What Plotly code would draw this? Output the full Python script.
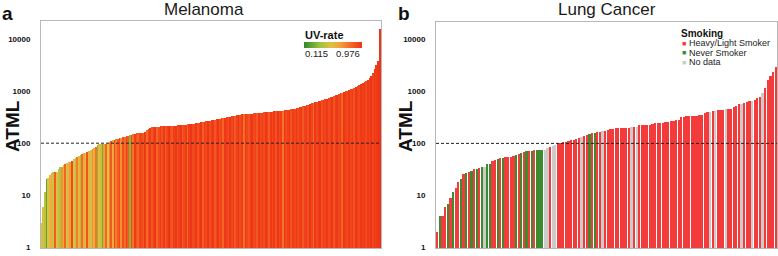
import plotly.graph_objects as go

# ---------------- data ----------------
melanoma_atml = [
    3, 6, 12, 21, 22, 25, 27, 28, 28, 29,
    33, 35, 36, 38, 41, 43, 44, 45, 46, 50,
    52, 55, 57, 60, 62, 65, 67, 69, 72, 76,
    79, 82, 85, 92, 96, 97, 98, 99, 100, 104,
    108, 112, 115, 118, 121, 124, 127, 129, 131, 136,
    139, 142, 145, 148, 151, 154, 156, 158, 159, 160,
    162, 164, 178, 190, 198, 203, 206, 208, 210, 211,
    212, 212, 213, 214, 215, 216, 217, 218, 219, 220,
    222, 224, 226, 228, 229, 231, 233, 235, 236, 238,
    240, 243, 247, 251, 255, 259, 263, 268, 272, 275,
    279, 283, 287, 291, 295, 299, 303, 308, 315, 318,
    322, 327, 332, 337, 342, 348, 354, 360, 362, 364,
    366, 368, 371, 373, 376, 378, 381, 384, 387, 390,
    392, 395, 398, 401, 404, 407, 410, 413, 416, 419,
    422, 425, 429, 433, 437, 441, 445, 450, 458, 467,
    477, 488, 499, 510, 522, 535, 548, 560, 573, 586,
    600, 614, 628, 643, 658, 674, 690, 700, 720, 745,
    770, 795, 820, 845, 870, 895, 920, 940, 970, 1000,
    1030, 1060, 1090, 1120, 1160, 1200, 1250, 1300, 1360, 1430,
    1510, 1590, 1680, 1770, 2000, 2300, 2700, 3200, 3900, 16000,
]

melanoma_uv = [
    0.45, 0.48, 0.42, 0.22, 0.50, 0.55, 0.62, 0.47, 0.85, 0.52,
    0.44, 0.40, 0.70, 0.58, 0.82, 0.48, 0.60, 0.66, 0.90, 0.50,
    0.42, 0.75, 0.55, 0.38, 0.80, 0.62, 0.52, 0.88, 0.58, 0.47,
    0.70, 0.60, 0.78, 0.30, 0.55, 0.45, 0.25, 0.66, 0.82, 0.50,
    0.72, 0.86, 0.62, 0.90, 0.75, 0.84, 0.92, 0.70, 0.88, 0.80,
    0.93, 0.85, 0.30, 0.90, 0.78, 0.95, 0.88, 0.82, 0.93, 0.90,
    0.86, 0.96, 0.80, 0.91, 0.95, 0.87, 0.93, 0.97, 0.82, 0.90,
    0.95, 0.88, 0.96, 0.84, 0.92, 0.97, 0.90, 0.86, 0.94, 0.96,
    0.89, 0.93, 0.97, 0.85, 0.91, 0.95, 0.80, 0.94, 0.97, 0.90,
    0.92, 0.96, 0.88, 0.93, 0.97, 0.84, 0.95, 0.91, 0.97, 0.89,
    0.94, 0.96, 0.87, 0.92, 0.97, 0.90, 0.94, 0.82, 0.96, 0.93,
    0.88, 0.97, 0.91, 0.95, 0.86, 0.93, 0.97, 0.90, 0.94, 0.79,
    0.96, 0.92, 0.88, 0.95, 0.97, 0.90, 0.93, 0.86, 0.96, 0.91,
    0.95, 0.89, 0.97, 0.93, 0.85, 0.96, 0.92, 0.95, 0.88, 0.97,
    0.90, 0.94, 0.78, 0.96, 0.91, 0.93, 0.97, 0.87, 0.95, 0.92,
    0.96, 0.90, 0.94, 0.97, 0.86, 0.93, 0.95, 0.89, 0.97, 0.92,
    0.80, 0.96, 0.91, 0.94, 0.97, 0.88, 0.95, 0.92, 0.96, 0.90,
    0.93, 0.97, 0.87, 0.94, 0.96, 0.91, 0.95, 0.82, 0.97, 0.93,
    0.90, 0.96, 0.92, 0.95, 0.88, 0.97, 0.93, 0.91, 0.96, 0.94,
    0.97, 0.90, 0.95, 0.93, 0.97, 0.92, 0.96, 0.94, 0.97, 0.976,
]

lung_atml = [
    2, 4, 4, 6, 7, 9, 12, 14, 18, 21,
    26, 28, 29, 30, 32, 33, 34, 35, 36, 40,
    41, 47, 49, 52, 53, 54, 55, 55, 56, 58,
    60, 63, 65, 68, 71, 73, 74, 75, 75, 76,
    76, 77, 82, 88, 92, 95, 104, 105, 107, 110,
    115, 117, 119, 123, 128, 132, 138, 145, 155, 160,
    162, 165, 170, 172, 176, 185, 190, 196, 198, 200,
    201, 202, 204, 205, 208, 210, 212, 225, 228, 230,
    232, 234, 236, 245, 248, 252, 255, 258, 262, 270,
    275, 280, 285, 320, 328, 334, 338, 340, 343, 348,
    354, 360, 390, 400, 410, 420, 426, 440, 450, 455,
    460, 465, 470, 510, 530, 580, 590, 600, 640, 650,
    660, 700, 755, 780, 940, 1170, 1700, 2000, 2400, 3000,
]

S, N, U = "Heavy/Light Smoker", "Never Smoker", "No data"
lung_smoking = [
    S, N, S, S, N, S, N, S, S, N,
    S, N, S, N, S, N, S, N, U, N,
    N, S, S, N, S, N, S, S, S, S,
    N, S, N, S, N, S, N, S, N, N,
    N, U, U, S, U, U, S, S, S, S,
    S, S, S, S, S, U, S, S, N, S,
    N, S, S, U, S, S, S, S, S, S,
    S, S, S, S, U, S, U, S, S, S,
    S, S, S, S, S, S, S, S, S, S,
    S, S, S, S, S, S, S, S, S, S,
    S, S, S, S, U, S, U, S, S, S,
    U, S, S, S, S, S, U, S, S, S,
    U, S, S, S, U, S, S, S, S, S,
]

smoking_order = [S, N, U]
smoking_colors = {S: "#f43b3b", N: "#3a8c2e", U: "#cbcbcb"}

y_ticks = [1, 10, 100, 1000, 10000]
THRESHOLD = 100
UV_MIN, UV_MAX = 0.115, 0.976
uv_scale = [
    [0.0, "#2f8a2a"],
    [0.27, "#9cc23a"],
    [0.45, "#dcc244"],
    [0.62, "#f2a23a"],
    [0.80, "#f46a26"],
    [1.0, "#ef3316"],
]

# ---------------- layout helpers ----------------
W, H = 778, 256
FONT = "Arial, Liberation Sans, sans-serif"


def fx(p):
    return p / W


def fy(p):
    return 1 - p / H


fig = go.Figure()

fig.add_trace(go.Bar(
    x=list(range(len(melanoma_atml))), y=melanoma_atml,
    width=1.0,
    marker=dict(
        color=melanoma_uv, colorscale=uv_scale, cmin=UV_MIN, cmax=UV_MAX,
        line=dict(width=0), showscale=True,
        colorbar=dict(
            orientation="h", x=fx(332.5), xanchor="center",
            y=fy(46), yanchor="middle",
            len=58, lenmode="pixels", thickness=6, thicknessmode="pixels",
            showticklabels=False, ticks="", outlinewidth=0,
            xpad=0, ypad=0,
        ),
    ),
    xaxis="x", yaxis="y", showlegend=False,
))

fig.add_trace(go.Bar(
    x=list(range(len(lung_atml))), y=lung_atml,
    width=0.86,
    marker=dict(color=[smoking_colors[c] for c in lung_smoking], line=dict(width=0)),
    xaxis="x2", yaxis="y2", showlegend=False,
))

frame = dict(showline=True, mirror=True, linecolor="#b8b8b8", linewidth=1,
             showgrid=False, zeroline=False)
yfmt = dict(type="log", tickvals=y_ticks, ticktext=[str(v) for v in y_ticks],
            tickfont=dict(family=FONT, size=8, color="#111", weight=700),
            ticks="", ticklabelstandoff=8, ticklabeloverflow="allow", **frame)

fig.update_layout(
    width=W, height=H,
    margin=dict(l=0, r=0, t=0, b=0),
    paper_bgcolor="white", plot_bgcolor="white",
    bargap=0,
    xaxis=dict(domain=[fx(41), fx(381)], range=[-0.5, len(melanoma_atml) - 0.5],
               showticklabels=False, ticks="", **frame),
    yaxis=dict(domain=[fy(252), fy(21)], range=[-0.012, 4.35], anchor="x", **yfmt),
    xaxis2=dict(domain=[fx(436), fx(777)], range=[-0.5, len(lung_atml) - 0.5],
                showticklabels=False, ticks="", anchor="y2", **frame),
    yaxis2=dict(domain=[fy(252), fy(22)], range=[-0.012, 4.34], anchor="x2", **yfmt),
)

for xr, yr in (("x", "y"), ("x2", "y2")):
    fig.add_shape(type="line", xref=f"{xr} domain", x0=0, x1=1,
                  yref=yr, y0=THRESHOLD, y1=THRESHOLD,
                  line=dict(color="#222", width=1, dash="3px,2px"))


def ann(text, x, y, size, bold=False, xanchor="center", color="#111", angle=0):
    fig.add_annotation(
        text=text, x=fx(x), y=fy(y), xref="paper", yref="paper",
        xanchor=xanchor, yanchor="middle", showarrow=False, textangle=angle,
        font=dict(family=FONT, size=size, color=color, weight=700 if bold else 400),
    )


ann("a", 7, 14, 19, bold=True)
ann("b", 404, 14, 19, bold=True)
ann("Melanoma", 204, 10, 17, color="#1a1a1a")
ann("Lung Cancer", 607, 10, 17, color="#1a1a1a")
ann("ATML", 12, 128, 19, bold=True, angle=-90)
ann("ATML", 405, 128, 19, bold=True, angle=-90)

# UV-rate colour legend text
ann("UV-rate", 303, 36, 11, bold=True, xanchor="left")
ann(f"{UV_MIN:.3f}", 303, 54.5, 9.5, xanchor="left", color="#222")
ann(f"{UV_MAX:.3f}", 362, 54.5, 9.5, xanchor="right", color="#222")

# Smoking legend
ann("Smoking", 679, 34, 10, bold=True, xanchor="left")
for k, name in enumerate(smoking_order):
    yy = 44 + 9.6 * k
    ann("■", 679.5, yy, 7, xanchor="left", color=smoking_colors[name])
    ann(name, 687, yy, 9, xanchor="left", color="#222")

fig.write_html(
    "out.html",
    config={"displayModeBar": False},
    post_script="document.body.style.margin='0';document.body.style.overflow='hidden';",
)
